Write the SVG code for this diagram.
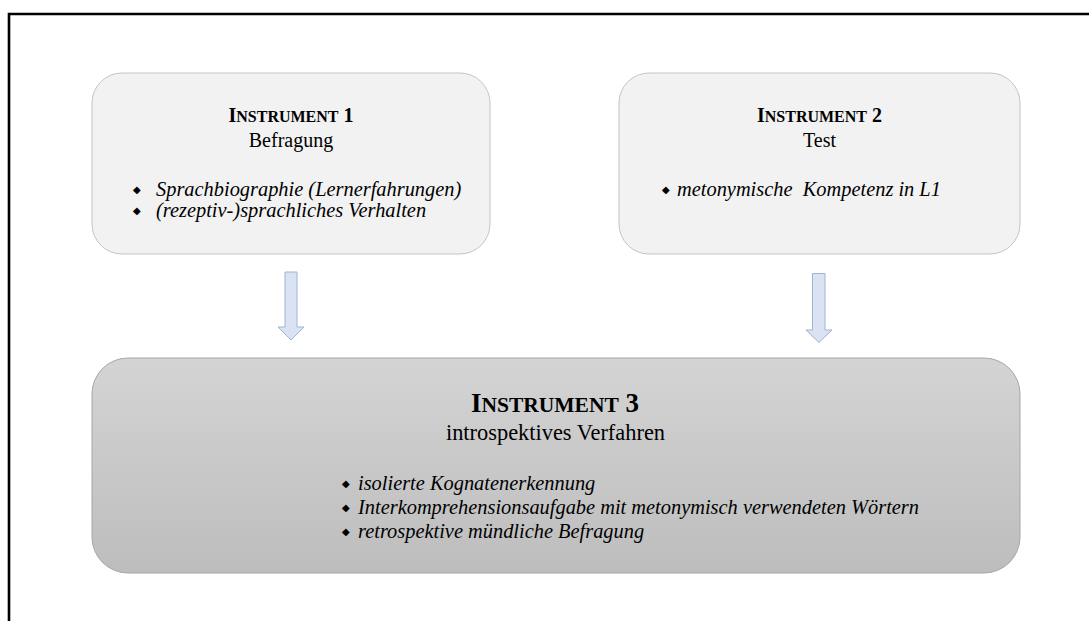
<svg xmlns="http://www.w3.org/2000/svg" width="1089" height="621" viewBox="0 0 1089 621">
  <style>
    .box-light { fill: #f2f2f2; stroke: #c4c4c4; stroke-width: 1; }
    .box-dark { fill: url(#darkFill); stroke: #a6a6a6; stroke-width: 1; }
    .arrow { fill: #dae3f3; stroke: #a3b3cc; stroke-width: 1; }
    .frame { fill: none; stroke: #000; stroke-width: 2.6; }
    .title { font-family: "Liberation Serif", "Times New Roman", serif; font-weight: bold; fill: #000; text-anchor: middle; }
    .sub { font-family: "Liberation Serif", "Times New Roman", serif; fill: #000; text-anchor: middle; }
    .item { font-family: "Liberation Serif", "Times New Roman", serif; font-style: italic; font-size: 20.4px; fill: #000; }
    .bullet { font-family: "DejaVu Sans", sans-serif; font-size: 10px; fill: #000; }
  </style>
  <defs>
    <linearGradient id="darkFill" x1="0" y1="0" x2="0" y2="1">
      <stop offset="0" stop-color="#d4d4d4"/>
      <stop offset="1" stop-color="#bdbdbd"/>
    </linearGradient>
  </defs>

  <rect width="1089" height="621" fill="#ffffff"/>

  <!-- page frame: only the top and left edges fall inside the sheet -->
  <path class="frame" d="M9 621 V14 H1089"/>

  <!-- instrument 1: questionnaire -->
  <g id="instrument1">
    <rect class="box-light" x="92" y="73" width="398" height="181" rx="30" ry="30"/>
    <text class="title" x="291" y="122"><tspan font-size="20">I</tspan><tspan font-size="16">NSTRUMENT</tspan><tspan font-size="20"> 1</tspan></text>
    <text class="sub" x="291" y="147" font-size="20">Befragung</text>
    <text class="bullet" x="133" y="193">◆</text>
    <text class="item" x="156" y="196">Sprachbiographie (Lernerfahrungen)</text>
    <text class="bullet" x="133" y="214">◆</text>
    <text class="item" x="156" y="217">(rezeptiv-)sprachliches Verhalten</text>
  </g>

  <!-- instrument 2: test -->
  <g id="instrument2">
    <rect class="box-light" x="619" y="73" width="401" height="181" rx="30" ry="30"/>
    <text class="title" x="819.5" y="122"><tspan font-size="20">I</tspan><tspan font-size="16">NSTRUMENT</tspan><tspan font-size="20"> 2</tspan></text>
    <text class="sub" x="819.5" y="147" font-size="20">Test</text>
    <text class="bullet" x="662" y="193">◆</text>
    <text class="item" x="677" y="196" xml:space="preserve">metonymische  Kompetenz in L1</text>
  </g>

  <!-- instrument 3: introspective procedure -->
  <g id="instrument3">
    <rect class="box-dark" x="92" y="358" width="928" height="215" rx="36" ry="36"/>
    <text class="title" x="555" y="412"><tspan font-size="27">I</tspan><tspan font-size="21.5">NSTRUMENT</tspan><tspan font-size="27"> 3</tspan></text>
    <text class="sub" x="555.5" y="440" font-size="22.4">introspektives Verfahren</text>
    <text class="bullet" x="342" y="487">◆</text>
    <text class="item" x="358" y="490" font-size="21">isolierte Kognatenerkennung</text>
    <text class="bullet" x="342" y="511">◆</text>
    <text class="item" x="358" y="514" font-size="21">Interkomprehensionsaufgabe mit metonymisch verwendeten Wörtern</text>
    <text class="bullet" x="342" y="535">◆</text>
    <text class="item" x="358" y="538" font-size="21">retrospektive mündliche Befragung</text>
  </g>

  <!-- connectors: block arrows feeding into instrument 3 -->
  <g id="connectors">
    <path class="arrow" d="M285 272 H297 V327 H304 L291 340 L278 327 H285 Z"/>
    <path class="arrow" d="M812.5 273.5 H825 V330 H832 L819 342.5 L806 330 H812.5 Z"/>
  </g>
</svg>
